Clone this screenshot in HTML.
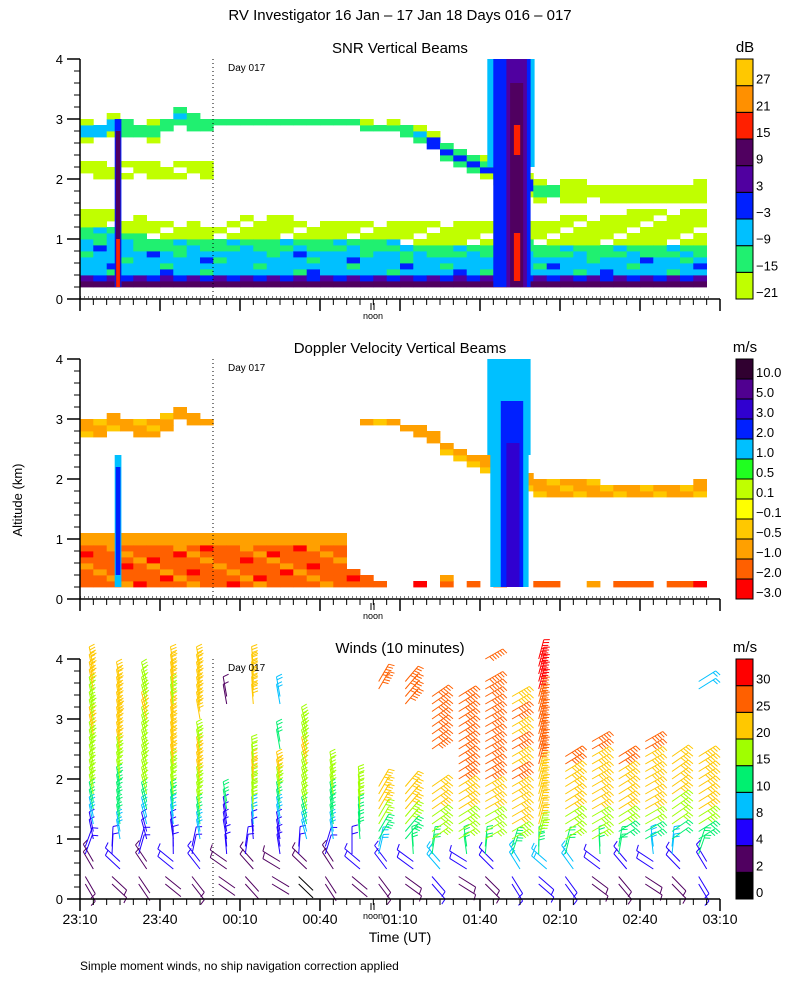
<!DOCTYPE html>
<html><head><meta charset="utf-8"><style>
html,body{margin:0;padding:0;background:#fff;}
svg{display:block;font-family:"Liberation Sans",sans-serif;}
</style></head><body>
<svg id="chart" width="800" height="1000" viewBox="0 0 800 1000" xmlns="http://www.w3.org/2000/svg">
<rect width="800" height="1000" fill="#fff"/>
<text x="400" y="20" text-anchor="middle" font-size="15">RV Investigator  16 Jan – 17 Jan 18 Days 016 – 017</text>
<text x="22" y="500" text-anchor="middle" font-size="13" transform="rotate(-90 22 500)">Altitude (km)</text>
<text x="400" y="942" text-anchor="middle" font-size="14">Time (UT)</text>
<text x="80" y="970" font-size="12">Simple moment winds, no ship navigation correction applied</text>
<g id="layer"></g>
</svg>
<script>
// ---- data ----
const timeTicks = ['23:10','23:40','00:10','00:40','01:10','01:40','02:10','02:40','03:10'];
const altTicks = [0,1,2,3,4];
const panelTitles = ['SNR Vertical Beams','Doppler Velocity Vertical Beams','Winds (10 minutes)'];
const snrLabels = ['-21','-15','-9','-3','3','9','15','21','27'];
const dopLabels = ['-3.0','-2.0','-1.0','-0.5','-0.1','0.1','0.5','1.0','2.0','3.0','5.0','10.0'];
const windLabels = ['0','2','4','8','10','15','20','25','30'];
// SNR per 5-min column (km)
const upTop = [3.0,3.0,3.1,3.0,3.0,3.0,3.1,3.2,3.1,3.0,3.0,3.0,3.0,3.0,3.0,3.0,3.0,3.0,3.0,3.0,3.0,2.95,2.95,2.95,2.9,2.85,2.75,2.6,2.5,2.4,2.35,2.3,2.2,2.1,2.0,1.95,1.95,1.95,1.95,1.9,1.9,1.9,1.9,1.9,1.9,1.9,1.95];
const upBot = [2.6,2.6,2.7,2.7,2.6,2.6,2.7,2.9,2.8,2.8,2.85,2.85,2.85,2.85,2.85,2.85,2.85,2.85,2.85,2.85,2.85,2.8,2.8,2.75,2.7,2.6,2.45,2.3,2.2,2.1,2.0,1.9,1.8,1.7,1.6,1.6,1.6,1.6,1.6,1.6,1.6,1.6,1.6,1.6,1.6,1.6,1.6];
const upLvl = [2,2,2,1,1,1,1,2,1,1,1,1,1,1,1,1,1,1,1,1,1,1,1,1,2,2,3,3,3,3,3,3,3,3,1,1,0,0,0,0,0,0,0,0,0,0,0];
const blTop = [1.0,1.0,1.0,0.95,0.9,0.85,0.8,0.8,0.8,0.8,0.8,0.8,0.8,0.8,0.8,0.8,0.8,0.8,0.8,0.8,0.8,0.8,0.8,0.8,0.75,0.75,0.75,0.75,0.75,0.75,0.75,0.75,0.8,0.8,0.75,0.75,0.75,0.75,0.75,0.75,0.75,0.75,0.75,0.75,0.75,0.75,0.75];
const limeTop = [1.45,1.45,1.45,1.4,1.35,1.3,1.3,1.3,1.25,1.2,1.2,1.3,1.35,1.35,1.35,1.35,1.3,1.3,1.3,1.3,1.3,1.3,1.3,1.3,1.3,1.3,1.3,1.3,1.3,1.3,1.3,1.3,1.3,1.3,1.3,1.3,1.35,1.35,1.4,1.4,1.4,1.45,1.45,1.45,1.45,1.45,1.45];
// Rain shafts: time (minutes after 23:10) start/end, top (km)
const rainStart = [13, 155];
const rainEnd = [15.5, 169];
const rainTops = [3.0, 4.0];
// Doppler per column
const dopLow = [0.9,0.9,0.9,0.9,0.9,0.9,0.9,0.9,0.9,0.9,0.9,0.9,0.9,0.9,0.9,0.9,0.9,0.9,0.9,0.9,0.5,0.4,0.3,0,0,0.3,0,0.35,0,0.3,0,0.3,0,0,0.3,0.3,0,0,0.3,0,0.3,0.3,0.3,0,0.3,0.3,0.3];
// Winds: 10-min columns, speeds (m/s) from 0.25 km to 4.0 km, -1 = missing
const windSpeeds = [
[3,3,5,6,8,12,15,16,17,18,20,18,17,20,22,-1],
[3,4,6,8,10,12,14,17,18,20,22,24,22,20,-1,-1],
[2,3,5,6,8,12,15,17,18,16,18,20,18,16,-1,-1],
[2,4,5,7,9,14,16,18,20,22,22,20,18,20,22,-1],
[3,4,6,8,12,15,18,20,20,18,-1,20,22,21,20,-1],
[2,3,4,6,7,10,-1,-1,-1,-1,-1,-1,3,-1,-1,-1],
[2,3,5,6,8,15,18,20,16,-1,-1,-1,20,21,22,-1],
[2,3,4,6,8,12,18,20,-1,10,-1,-1,9,-1,-1,-1],
[1,3,4,8,10,15,16,17,20,18,18,-1,-1,-1,-1,-1],
[2,3,5,8,10,14,16,15,-1,-1,-1,-1,-1,-1,-1,-1],
[2,4,6,10,12,15,16,-1,-1,-1,-1,-1,-1,-1,-1,-1],
[3,4,8,14,17,20,22,-1,-1,-1,-1,-1,-1,25,-1,-1],
[3,6,10,14,18,20,22,-1,-1,-1,-1,-1,25,26,-1,-1],
[4,8,12,16,18,22,22,-1,-1,25,26,26,26,-1,-1,-1],
[3,6,12,16,18,20,24,25,26,26,27,26,26,-1,-1,-1],
[3,6,12,15,18,20,24,25,25,26,27,27,26,28,-1,28],
[5,8,14,18,20,22,24,26,24,25,24,25,24,-1,-1,-1],
[4,8,14,18,20,22,24,24,26,28,28,28,29,30,30,31],
[4,8,12,16,18,22,22,24,26,-1,-1,-1,-1,-1,-1,-1],
[3,6,12,15,18,20,22,24,24,25,-1,-1,-1,-1,-1,-1],
[3,5,10,14,18,20,22,24,25,-1,-1,-1,-1,-1,-1,-1],
[3,5,8,14,17,20,22,24,24,26,-1,-1,-1,-1,-1,-1],
[3,6,8,12,15,18,21,22,22,-1,-1,-1,-1,-1,-1,-1],
[4,6,10,14,18,20,22,23,23,-1,-1,-1,-1,8,-1,-1]];
const colDirs = [102,100,105,98,100,100,95,100,105,100,95,60,50,35,32,30,30,75,32,30,32,30,35,32]; // staff angle (deg) per column
const lowDirs = [300,120,70]; // staff angle for lowest three levels

// ---- helpers ----
const NS='http://www.w3.org/2000/svg';
const layer=document.getElementById('layer');
const X0=80,X1=720,MIN_SPAN=240;
const xScale=m=>X0+(X1-X0)*m/MIN_SPAN;
const bases=[299,599,899];
const yScale=(p,h)=>bases[p]-60*h;
function mk(tag,attrs,parent){const e=document.createElementNS(NS,tag);for(const k in attrs)e.setAttribute(k,attrs[k]);(parent||layer).appendChild(e);return e;}
const snrCol=['#c0ff00','#20f070','#00c0ff','#0020ff','#5000a0','#500060','#ff2000','#ff9000','#ffc800'];
const dopCol=['#ff0000','#ff6000','#ffa000','#ffc800','#ffff00','#c0ff00','#20ff20','#00c0ff','#0020ff','#3000d0','#500090','#300030'];
const windCol=['#000000','#500060','#2000ff','#00c0ff','#00f070','#a0ff00','#ffc800','#ff6000','#ff0000'];
const windThr=[0,2,4,8,10,15,20,25,30];

// ---- SNR heatmap ----
const g1=mk('g',{});


const DH=0.1;
function snrLevel(i,h,r){
  if(h<0.2) return null;
  if(h<0.3) return 5;
  if(h<0.4) return (i%2)?3:4;
  if(h<blTop[i]-0.05) return ((i*5+r)%7===0)?1:(((i*3+r)%11===0)?3:2);
  if(h<blTop[i]+0.15) return ((i+r)%4===0)?2:1;
  if(h<limeTop[i]) return ((i*7+r*3)%5===0)?null:0;
  if(h>=upBot[i] && h<upTop[i]){
    const mid=(upBot[i]+upTop[i])/2, w=(upTop[i]-upBot[i])/2;
    const d=Math.abs(h+DH/2-mid)/w;
    if(d<0.35) return upLvl[i];
    if(d<0.7) return Math.min(1,upLvl[i]);
    return ((i+r)%3===0)?null:0;
  }
  if(i<10 && h>=2.0 && h<2.3) return (i+r)%4===0?null:0;
  return null;
}
for(let i=0;i<upTop.length;i++){
  for(let r=0;r<40;r++){
    const h=r*DH;const lv=snrLevel(i,h,r);
    if(lv===null) continue;
    const x=xScale(i*5),w=xScale((i+1)*5)-x;
    const c=mk('rect',{x:x.toFixed(1),y:yScale(0,h+DH).toFixed(1),width:(Math.min(w,710-x)+0.4).toFixed(1),height:6.4,fill:snrCol[lv]},g1);
    
    
  }
}
// rain shafts in SNR
rainStart.forEach((s,k)=>{
  const xa=xScale(s), xb=xScale(rainEnd[k]), w=xb-xa, top=rainTops[k];
  const add=(x0,x1,h0,h1,fill)=>{const c=mk('rect',{x:x0.toFixed(1),y:yScale(0,h1).toFixed(1),width:(x1-x0).toFixed(1),height:(60*(h1-h0)).toFixed(1),fill:fill},g1);
    
    };
  if(w<10){
    add(xa,xb,0.2,top,snrCol[3]); add(xa+1,xb-1,0.2,top-0.2,snrCol[5]); add(xa+1.5,xb-1.5,0.2,1.0,snrCol[6]);
  } else {
    add(xa-6,xb+4,2.2,top,snrCol[2]);
    add(xa,xb,0.2,top,snrCol[3]);
    add(xa+w*0.35,xb-w*0.1,0.2,top,snrCol[4]);
    add(xa+w*0.45,xb-w*0.2,0.2,top-0.4,snrCol[5]);
    add(xa+w*0.55,xb-w*0.28,0.3,1.1,snrCol[6]);
    add(xa+w*0.55,xb-w*0.28,2.4,2.9,snrCol[6]);
  }
});
// ---- Doppler heatmap ----
const g2=mk('g',{});


function dopLevel(i,h,r){
  if(h<0.2) return null;
  if(h<dopLow[i]) return ((i+r)%5===0)?2:(((i*3+r)%7===0)?0:1);
  if(h>=dopLow[i] && h<dopLow[i]+0.15 && i<20) return 2;
  if(h>=upBot[i]+0.1 && h<upTop[i]){
    if(i>=10 && i<=23 && (i+r)%3!==0 && h<upTop[i]-0.15) return null;
    return ((i+r)%3===0)?3:2;
  }
  return null;
}
for(let i=0;i<upTop.length;i++){
  for(let r=0;r<40;r++){
    const h=r*DH;const lv=dopLevel(i,h,r);
    if(lv===null) continue;
    const x=xScale(i*5),w=xScale((i+1)*5)-x;
    const c=mk('rect',{x:x.toFixed(1),y:yScale(1,h+DH).toFixed(1),width:(Math.min(w,710-x)+0.4).toFixed(1),height:6.4,fill:dopCol[lv]},g2);
    
    
  }
}
rainStart.forEach((s,k)=>{
  const xa=xScale(s), xb=xScale(rainEnd[k]), w=xb-xa, top=rainTops[k];
  const add=(x0,x1,h0,h1,fill)=>{const c=mk('rect',{x:x0.toFixed(1),y:yScale(1,h1).toFixed(1),width:(x1-x0).toFixed(1),height:(60*(h1-h0)).toFixed(1),fill:fill},g2);
    
    };
  if(w<10){
    add(xa,xb,0.2,2.4,dopCol[7]); add(xa+1,xb-1,0.4,2.2,dopCol[8]);
  } else {
    add(xa-6,xb,2.4,top,dopCol[7]);
    add(xa-3,xb-2,0.2,3.0,dopCol[7]);
    add(xa+w*0.2,xb-w*0.2,0.2,3.3,dopCol[8]);
    add(xa+w*0.35,xb-w*0.3,0.2,2.6,dopCol[9]);
  }
});
// ---- Wind barbs ----
const g3=mk('g',{});


function spdColor(s){let k=0;for(let j=0;j<windThr.length;j++) if(s>=windThr[j]) k=j;return windCol[k];}
windSpeeds.forEach((col,k)=>{
  col.forEach((s,l)=>{
    if(s<0) return;
    for(let sub=0;sub<2;sub++){
      const h=0.25+l*0.25+sub*0.125;
      if(h>4.05) continue;
      const deg=l<3?lowDirs[l]+((k*17)%30):colDirs[k];
      const a=deg*Math.PI/180, L=20;
      const bx=xScale(k*10+2)+(deg>90&&deg<180?8:0), by=yScale(2,h);
      const ex=bx+L*Math.cos(a), ey=by-L*Math.sin(a);
      const clr=spdColor(s);
      const b=mk('g',{stroke:clr,'stroke-width':1,fill:'none'},g3);
      
      
      mk('line',{x1:bx.toFixed(1),y1:by.toFixed(1),x2:ex.toFixed(1),y2:ey.toFixed(1)},b);
      const nf=Math.round(s/5);
      const fa=a-1.3;
      for(let f=0;f<nf;f++){
        const px=ex-(f*3)*Math.cos(a), py=ey+(f*3)*Math.sin(a);
        mk('line',{x1:px.toFixed(1),y1:py.toFixed(1),x2:(px+6*Math.cos(fa)).toFixed(1),y2:(py-6*Math.sin(fa)).toFixed(1)},b);
      }
    }
  });
});

// ---- axes, titles, day markers ----
for(let p=0;p<3;p++){
  const base=bases[p];
  const ax=mk('g',{stroke:'#000','stroke-width':1.5});
  
  
  mk('line',{x1:X0,y1:base,x2:X0,y2:base-240},ax);
  mk('line',{x1:X0,y1:base,x2:X1,y2:base},ax);
  for(let m=0;m<=MIN_SPAN;m+=5){
    const x=xScale(m);const major=(m%30===0);
    mk('line',{x1:x,y1:base,x2:x,y2:base+(major?12:6),'stroke-width':major?1.5:1},ax);
  }
  for(let t=0;t<=20;t++){
    const y=yScale(p,t*0.2);const major=(t%5===0);
    mk('line',{x1:X0,y1:y,x2:X0-(major?13:6),y2:y,'stroke-width':major?1.5:1},ax);
  }
  altTicks.forEach(v=>{
    const t=mk('text',{x:63,y:yScale(p,v)+5,'text-anchor':'end','font-size':13});
    t.textContent=v;
    
    
  });
  const tt=mk('text',{x:400,y:base-246,'text-anchor':'middle','font-size':15});
  tt.textContent=panelTitles[p];
  
  
  const dl=mk('line',{x1:213,y1:base-240,x2:213,y2:base,stroke:'#000','stroke-width':1,'stroke-dasharray':'1,3'});
  
  
  const dt=mk('text',{x:228,y:base-228,'font-size':10});
  dt.textContent='Day 017';
  
  
  if(p<2){
    const hl=mk('line',{x1:X0,y1:base-2,x2:710,y2:base-2,stroke:'#000','stroke-width':1,'stroke-dasharray':'1,3'});
    
    
  }
  mk('line',{x1:371,y1:base+4,x2:371,y2:base+11,stroke:'#000','stroke-width':1});
  mk('line',{x1:374,y1:base+4,x2:374,y2:base+11,stroke:'#000','stroke-width':1});
  const nt=mk('text',{x:373,y:base+20,'text-anchor':'middle','font-size':9});
  nt.textContent='noon';
  
  
}
timeTicks.forEach((lab,i)=>{
  const t=mk('text',{x:xScale(i*30),y:924,'text-anchor':'middle','font-size':14});
  t.textContent=lab;
  
  
});
// ---- colorbars ----
function colorbar(p,cols,labels,unit,name){
  const top=bases[p]-240, n=cols.length, h=240/n;
  const g=mk('g',{});
  
  
  cols.forEach((c,j)=>{
    const y=top+240-(j+1)*h;
    mk('rect',{x:736,y:y,width:17,height:h,fill:c,stroke:'#000','stroke-width':1},g);
    const t=mk('text',{x:756,y:top+240-j*h-2,'font-size':13},g);
    t.textContent=labels[j].replace('-','\u2212');
    
    
  });
  const u=mk('text',{x:745,y:top-7,'text-anchor':'middle','font-size':15},g);
  u.textContent=unit;
  
  
}
colorbar(0,snrCol,snrLabels,'dB','snr-colorbar');
colorbar(1,dopCol,dopLabels,'m/s','doppler-colorbar');
colorbar(2,windCol,windLabels,'m/s','wind-colorbar');
</script>
</body></html>
